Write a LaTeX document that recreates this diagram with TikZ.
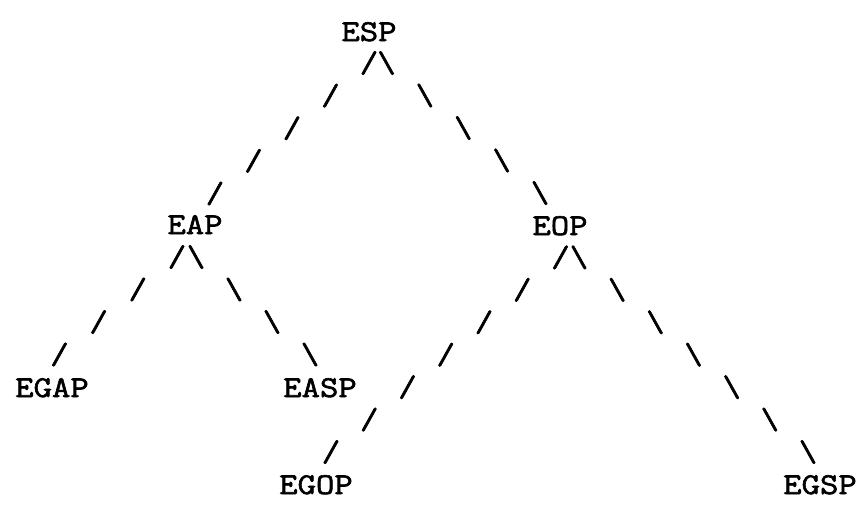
\documentclass[tikz,border=0pt]{standalone}
\usepackage{fontspec}
\usetikzlibrary{calc}
\newfontfamily\typer{Latin Modern Mono}[FakeStretch=1.18, FakeBold=2]

\newcommand{\typeface}{\typer\fontsize{21.5}{26}\selectfont}
\tikzset{
  term/.style={font=\typeface, inner sep=0, anchor=base},
  slash/.style={font=\typeface, inner sep=0}
}
% a row of typed slashes from one named point to another
\newcommand{\slashes}[4]{
\foreach \k in {0,...,#3}
  \node[slash] at ($(#1)!\k/#3!(#2)$) {#4};
}

\begin{document}
\begin{tikzpicture}[x=0.025cm, y=-0.025cm]
\useasboundingbox (0,0) rectangle (866,506);

\node[term] (ESP) at (369,41) {ESP};
\node[term] (EAP) at (195,234) {EAP};
\node[term] (EOP) at (560,235) {EOP};
\node[term] (EGAP) at (52,397) {EGAP};
\node[term] (EASP) at (320,397) {EASP};
\node[term] (EGOP) at (316,494) {EGOP};
\node[term] (EGSP) at (820,494) {EGSP};

\coordinate (ESP-l) at ($(ESP.base)+(0,22)$);
\coordinate (ESP-r) at ($(ESP.base)+(17.5,22)$);
\coordinate (EAP-t) at ($(EAP.base)+(20,-40.5)$);
\coordinate (EOP-t) at ($(EOP.base)+(-20,-42)$);
\coordinate (EAP-l) at ($(EAP.base)+(-18,23)$);
\coordinate (EAP-r) at ($(EAP.base)+(1,23)$);
\coordinate (EGAP-t) at ($(EGAP.base)+(7.5,-42.5)$);
\coordinate (EASP-t) at ($(EASP.base)+(-10,-42.5)$);
\coordinate (EOP-l) at ($(EOP.base)+(0.5,22.4)$);
\coordinate (EOP-r) at ($(EOP.base)+(19,22.4)$);
\coordinate (EGOP-t) at ($(EGOP.base)+(15,-42)$);
\coordinate (EGSP-t) at ($(EGSP.base)+(-12,-42)$);

\slashes{ESP-l}{EAP-t}{4}{/}
\slashes{ESP-r}{EOP-t}{4}{\textbackslash}
\slashes{EAP-l}{EGAP-t}{3}{/}
\slashes{EAP-r}{EASP-t}{3}{\textbackslash}
\slashes{EOP-l}{EGOP-t}{6}{/}
\slashes{EOP-r}{EGSP-t}{6}{\textbackslash}
\end{tikzpicture}
\end{document}
